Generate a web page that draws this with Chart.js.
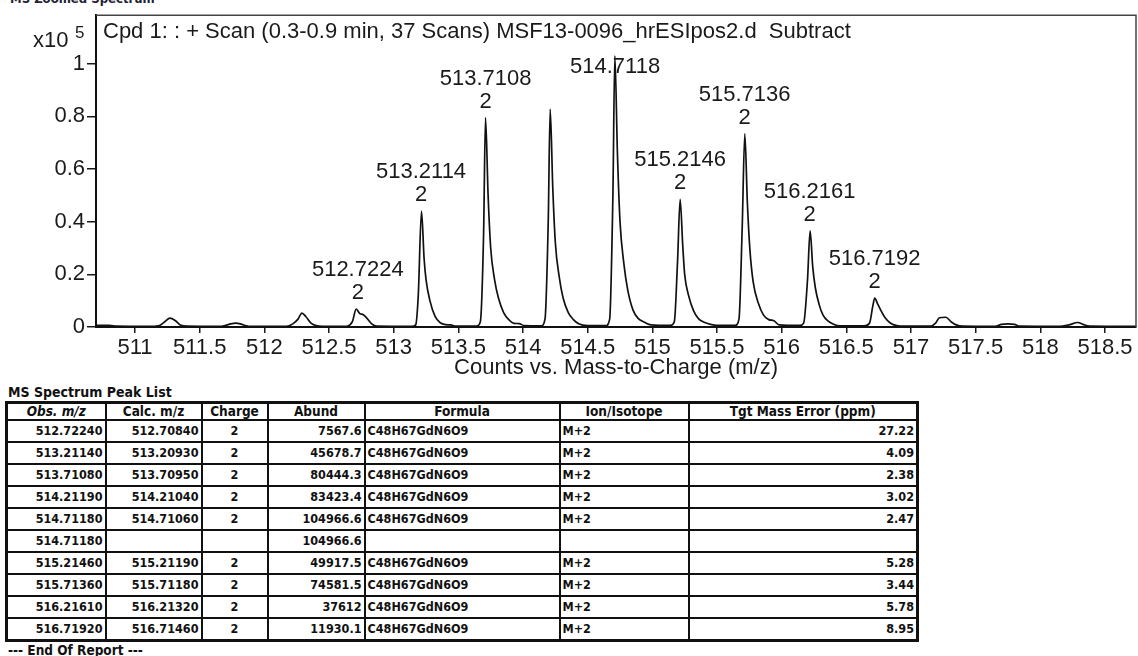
<!DOCTYPE html>
<html>
<head>
<meta charset="utf-8">
<script src="https://cdn.jsdelivr.net/npm/chart.js@4/dist/chart.umd.min.js"></script>
<style>
  body { margin: 0; background: #fff; width: 1138px; height: 656px; overflow: hidden; position: relative; }
  #top-cut { position: absolute; left: 10px; top: -9px; font: bold 13px "DejaVu Sans Condensed", sans-serif; color: #223; }
  #chart-box { position: absolute; left: 0; top: 0; width: 1138px; height: 380px; }
  #list-title { position: absolute; left: 8px; top: 384px; font: bold 14px "DejaVu Sans Condensed", sans-serif; color: #111; }
  #peak-table { position: absolute; left: 5px; top: 401px; width: 911px; border-collapse: collapse; border: 3px solid #111;
    font: bold 12.5px "DejaVu Sans Condensed", sans-serif; color: #111; table-layout: fixed; }
  #peak-table th, #peak-table td { border: 2px solid #111; padding: 0 2px; white-space: nowrap; overflow: hidden; }
  #peak-table th { height: 15px; line-height: 15px; text-align: center; font-size: 13.5px; }
  #peak-table td { height: 20px; line-height: 20px; }
  #peak-table th.obs { font-style: italic; }
  .r { text-align: right; } .c { text-align: center; } .l { text-align: left; }
  #end-note { position: absolute; left: 8px; top: 642px; font: bold 13.5px "DejaVu Sans Condensed", sans-serif; color: #111; }
</style>
</head>
<body>
<div id="top-cut">MS Zoomed Spectrum</div>
<div id="chart-box"><canvas id="chart"></canvas></div>
<div id="list-title">MS Spectrum Peak List</div>
<table id="peak-table"></table>
<div id="end-note">--- End Of Report ---</div>
<script>
// spectrum trace, counts in units of 10^5
const mz = [
  510.70, 510.80, 510.86, 511.10, 511.18, 511.23, 511.27, 511.31, 511.35, 511.40,
  511.65, 511.70, 511.74, 511.78, 511.82, 511.86, 511.90,
  512.17, 512.22, 512.26, 512.29, 512.32, 512.36, 512.40, 512.45,
  512.62, 512.68, 512.71, 512.74, 512.76, 512.79, 512.83, 512.87,
  513.14, 513.17, 513.19, 513.215, 513.235, 513.25, 513.28, 513.32, 513.36, 513.40, 513.44, 513.48,
  513.64, 513.67, 513.695, 513.71, 513.73, 513.75, 513.78, 513.81, 513.85, 513.89, 513.93, 513.97, 514.01,
  514.14, 514.17, 514.195, 514.21, 514.23, 514.25, 514.28, 514.31, 514.35, 514.39, 514.43, 514.50,
  514.64, 514.67, 514.695, 514.71, 514.73, 514.75, 514.78, 514.81, 514.85, 514.89, 514.94, 514.99,
  515.14, 515.17, 515.195, 515.215, 515.235, 515.25, 515.28, 515.32, 515.36, 515.40, 515.45, 515.50,
  515.64, 515.67, 515.695, 515.715, 515.735, 515.755, 515.78, 515.82, 515.86, 515.90, 515.94, 515.98,
  516.14, 516.17, 516.20, 516.22, 516.24, 516.26, 516.29, 516.32, 516.36, 516.40, 516.45,
  516.64, 516.68, 516.705, 516.72, 516.74, 516.77, 516.80, 516.84, 516.89, 516.95,
  517.15, 517.19, 517.22, 517.27, 517.31, 517.35, 517.40,
  517.65, 517.70, 517.75, 517.80, 517.84,
  518.15, 518.22, 518.29, 518.33, 518.38, 518.74
]
const counts = [
  0.006, 0.006, 0.003, 0.002, 0.004, 0.02, 0.034, 0.025, 0.008, 0.003,
  0.002, 0.006, 0.012, 0.015, 0.011, 0.004, 0.002,
  0.002, 0.012, 0.03, 0.053, 0.04, 0.015, 0.005, 0.002,
  0.002, 0.02, 0.068, 0.05, 0.048, 0.035, 0.012, 0.003,
  0.002, 0.008, 0.12, 0.44, 0.26, 0.18, 0.1, 0.04, 0.016, 0.009, 0.008, 0.003,
  0.003, 0.02, 0.35, 0.795, 0.5, 0.3, 0.18, 0.11, 0.055, 0.028, 0.014, 0.013, 0.005,
  0.004, 0.03, 0.4, 0.827, 0.53, 0.32, 0.19, 0.11, 0.055, 0.028, 0.012, 0.005,
  0.005, 0.03, 0.5, 1.03, 0.66, 0.4, 0.24, 0.14, 0.065, 0.033, 0.018, 0.008,
  0.006, 0.02, 0.25, 0.485, 0.31, 0.2, 0.12, 0.06, 0.03, 0.018, 0.01, 0.006,
  0.006, 0.03, 0.38, 0.733, 0.47, 0.29, 0.17, 0.09, 0.045, 0.028, 0.024, 0.008,
  0.006, 0.015, 0.18, 0.365, 0.23, 0.15, 0.085, 0.045, 0.022, 0.011, 0.004,
  0.004, 0.015, 0.08, 0.11, 0.09, 0.06, 0.035, 0.015, 0.005, 0.003,
  0.003, 0.015, 0.035, 0.037, 0.02, 0.008, 0.003,
  0.002, 0.01, 0.012, 0.01, 0.003,
  0.002, 0.008, 0.017, 0.01, 0.003, 0.002
]

const xTicks = [511, 511.5, 512, 512.5, 513, 513.5, 514, 514.5, 515, 515.5, 516, 516.5, 517, 517.5, 518, 518.5]
const yTicks = [0, 0.2, 0.4, 0.6, 0.8, 1]

// labelled peaks
const labelMz = [512.7224, 513.2114, 513.7108, 514.7118, 515.2146, 515.7136, 516.2161, 516.7192]
const labelCharge = ['2', '2', '2', '2', '2', '2', '2', '2']

const plotTitle = 'Cpd 1: : + Scan (0.3-0.9 min, 37 Scans) MSF13-0096_hrESIpos2.d  Subtract'

// peak list table
const obsMz = ['512.72240', '513.21140', '513.71080', '514.21190', '514.71180', '514.71180', '515.21460', '515.71360', '516.21610', '516.71920']
const calcMz = ['512.70840', '513.20930', '513.70950', '514.21040', '514.71060', '', '515.21190', '515.71180', '516.21320', '516.71460']
const charges = ['2', '2', '2', '2', '2', '', '2', '2', '2', '2']
const abund = ['7567.6', '45678.7', '80444.3', '83423.4', '104966.6', '104966.6', '49917.5', '74581.5', '37612', '11930.1']
const formulas = ['C48H67GdN6O9', 'C48H67GdN6O9', 'C48H67GdN6O9', 'C48H67GdN6O9', 'C48H67GdN6O9', '', 'C48H67GdN6O9', 'C48H67GdN6O9', 'C48H67GdN6O9', 'C48H67GdN6O9']
const ions = ['M+2', 'M+2', 'M+2', 'M+2', 'M+2', '', 'M+2', 'M+2', 'M+2', 'M+2']
const massErr = ['27.22', '4.09', '2.38', '3.02', '2.47', '', '5.28', '3.44', '5.78', '8.95']

const FONT = '"Liberation Sans", Arial, sans-serif'
const INK = '#1a1a1a'

const buildTable = () => {
  const table = document.getElementById('peak-table')
  const widths = [99, 96, 66, 97, 195, 129, 229]
  const colgroup = document.createElement('colgroup')
  widths.forEach((w) => {
    const col = document.createElement('col')
    col.style.width = w + 'px'
    colgroup.appendChild(col)
  })
  table.appendChild(colgroup)
  const head = document.createElement('tr')
  ;['Obs. m/z', 'Calc. m/z', 'Charge', 'Abund', 'Formula', 'Ion/Isotope', 'Tgt Mass Error (ppm)'].forEach((t, i) => {
    const th = document.createElement('th')
    if (i === 0) th.classList.add('obs')
    th.innerText = t
    head.appendChild(th)
  })
  table.appendChild(head)
  obsMz.forEach((_, i) => {
    const tr = document.createElement('tr')
    const cells = [
      [obsMz[i], 'r'], [calcMz[i], 'r'], [charges[i], 'c'], [abund[i], 'r'],
      [formulas[i], 'l'], [ions[i], 'l'], [massErr[i], 'r'],
    ]
    cells.forEach(([text, cls]) => {
      const td = document.createElement('td')
      td.classList.add(cls)
      td.innerText = text
      tr.appendChild(td)
    })
    table.appendChild(tr)
  })
}

const apexOf = (m) => {
  let best = 0
  mz.forEach((v, i) => { if (Math.abs(v - m) < 0.05 && counts[i] > best) best = counts[i] })
  return best
}

const overlay = {
  id: 'overlay',
  afterDatasetsDraw(chart) {
    const { ctx, chartArea: a, scales: { x, y } } = chart
    ctx.save()
    ctx.strokeStyle = '#444'
    ctx.lineWidth = 1.5
    ctx.beginPath()
    ctx.moveTo(a.left, a.top)
    ctx.lineTo(a.right, a.top)
    ctx.lineTo(a.right, a.bottom)
    ctx.stroke()

    ctx.fillStyle = INK
    ctx.font = '22px ' + FONT
    ctx.textAlign = 'left'
    ctx.textBaseline = 'middle'
    ctx.fillText(plotTitle, a.left + 7, 32)
    ctx.fillText('x10', 33, 41)
    ctx.font = '17px ' + FONT
    ctx.fillText('5', 75, 33)

    ctx.font = '22px ' + FONT
    ctx.textAlign = 'center'
    labelMz.forEach((m, i) => {
      const px = x.getPixelForValue(m)
      const py = y.getPixelForValue(apexOf(m))
      if (py - 39 < a.top + 45) {
        ctx.fillText(m.toFixed(4), px, a.top + 52)
        return
      }
      ctx.fillText(m.toFixed(4), px, py - 39)
      ctx.fillText(labelCharge[i], px, py - 16)
    })
    ctx.restore()
  },
}

const createSpectrumChart = () => {
  new Chart(document.getElementById('chart'), {
    type: 'line',
    data: {
      datasets: [
        {
          data: mz.map((m, i) => ({ x: m, y: counts[i] })),
          borderColor: '#111',
          borderWidth: 1.7,
          pointRadius: 0,
          cubicInterpolationMode: 'monotone',
          fill: false,
        },
      ],
    },
    options: {
      responsive: true,
      maintainAspectRatio: false,
      animation: false,
      layout: { padding: { top: 12, right: 2, left: 0, bottom: 0 } },
      plugins: { legend: { display: false }, tooltip: { enabled: false } },
      scales: {
        x: {
          type: 'linear',
          min: 510.698,
          max: 518.74,
          afterBuildTicks: (s) => { s.ticks = xTicks.map((v) => ({ value: v })) },
          afterFit: (s) => { s.height = 53 },
          ticks: { color: INK, font: { size: 22, family: FONT }, padding: 2, maxRotation: 0, autoSkip: false, callback: (v) => String(v) },
          grid: { drawOnChartArea: false, tickLength: 6, color: INK, lineWidth: 1.5 },
          border: { color: '#111', width: 2 },
          title: { display: true, text: 'Counts vs. Mass-to-Charge (m/z)', color: INK, font: { size: 22, family: FONT }, padding: { top: 0, bottom: -1 } },
        },
        y: {
          min: 0,
          max: 1.184,
          afterBuildTicks: (s) => { s.ticks = yTicks.map((v) => ({ value: v })) },
          afterFit: (s) => { s.width = 96 },
          ticks: { color: INK, font: { size: 22, family: FONT }, padding: 2, callback: (v) => String(v) },
          grid: { drawOnChartArea: false, tickLength: 9, color: INK, lineWidth: 1.5 },
          border: { color: '#111', width: 2 },
        },
      },
    },
    plugins: [overlay],
  })
}

buildTable()
createSpectrumChart()
</script>
</body>
</html>
